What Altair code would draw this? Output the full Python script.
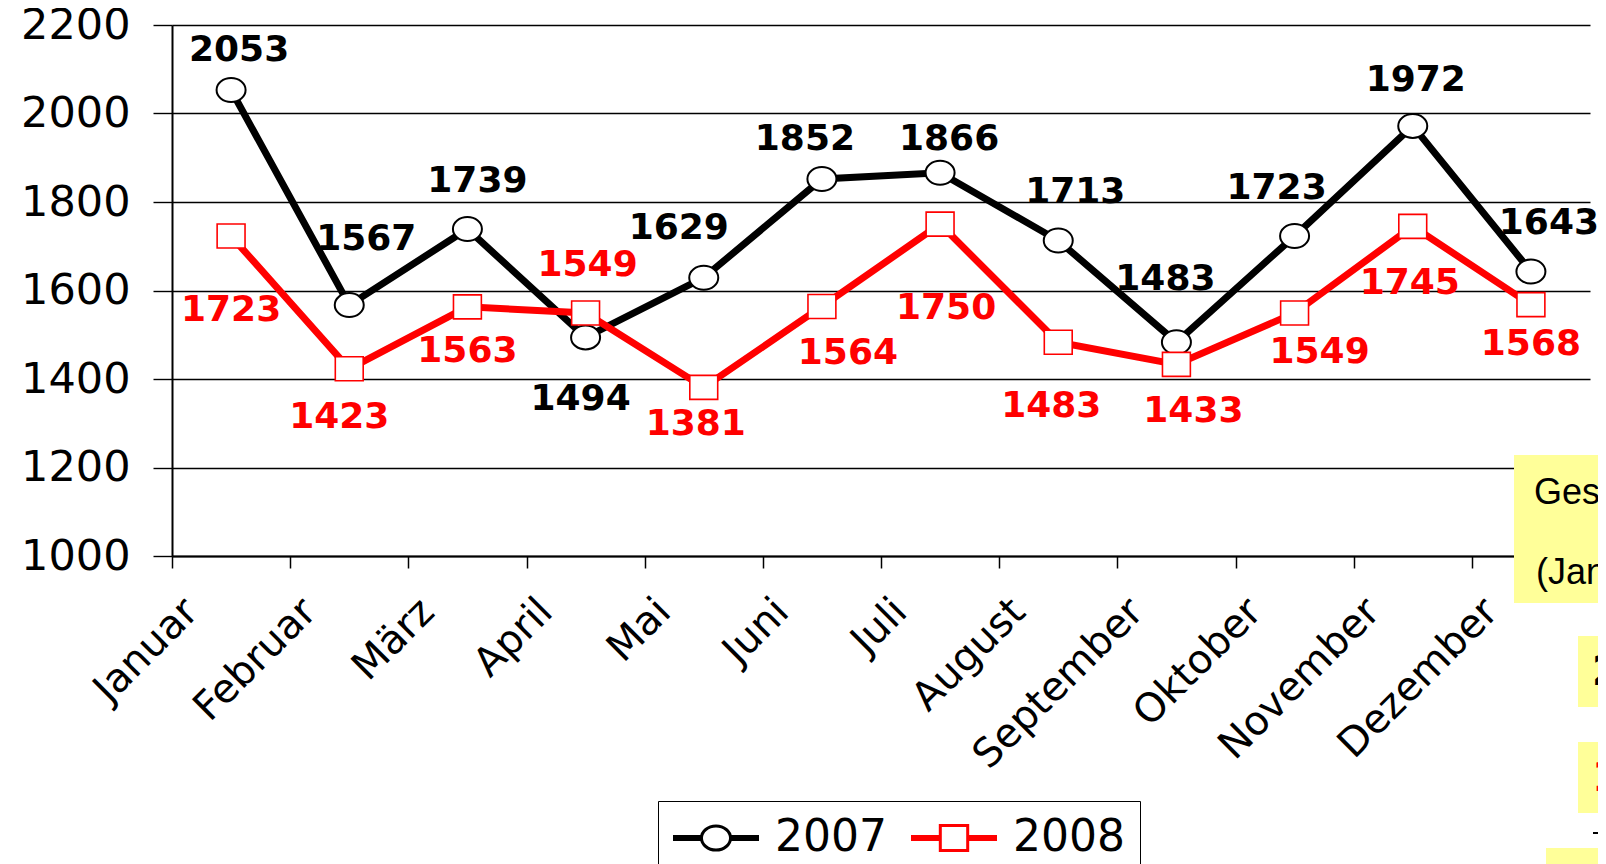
import altair as alt
import pandas as pd

# ---------------- data ----------------
months = ["Januar", "Februar", "März", "April", "Mai", "Juni", "Juli",
          "August", "September", "Oktober", "November", "Dezember"]
v2007 = [2053, 1567, 1739, 1494, 1629, 1852, 1866, 1713, 1483, 1723, 1972, 1643]
v2008 = [1723, 1423, 1563, 1549, 1381, 1564, 1750, 1483, 1433, 1549, 1745, 1568]
series = ["2007", "2008"]
y_ticks = [1000, 1200, 1400, 1600, 1800, 2000, 2200]

# label placement offsets in pixels (layout only)
lab_dx_2007 = [8, 17, 10, -5, -25, -17, 9, 17, -11, -18, 3, 18]
lab_dy_2007 = [-40, -66, -48, 62, -50, -40, -34, -48, -63, -48, -46, -48]
lab_dx_2008 = [0, -10, 0, 2, -8, 26, 6, -7, 17, 25, -3, 0]
lab_dy_2008 = [74, 48, 44, -48, 37, 47, 84, 64, 47, 39, 57, 39]

anno_head = ["Gesamt", "(Januar - Dezember)"]
anno_totals = [str(sum(v2007)), str(sum(v2008))]

# ---------------- layout ----------------
W, H = 1418, 531
PXX = W / 12.0
PXY = H / 1200.0
FONT = "DejaVu Sans"

rows = []
for i, m in enumerate(months):
    rows.append({"Monat": m, "idx": i, "Jahr": series[0], "Wert": v2007[i],
                 "dx": lab_dx_2007[i], "dy": lab_dy_2007[i]})
for i, m in enumerate(months):
    rows.append({"Monat": m, "idx": i, "Jahr": series[1], "Wert": v2008[i],
                 "dx": lab_dx_2008[i], "dy": lab_dy_2008[i]})
df = pd.DataFrame(rows)

xscale = alt.Scale(domain=[-0.5, 11.5], nice=False, zero=False)
yscale = alt.Scale(domain=[1000, 2200], nice=False, zero=False)

names = "[" + ",".join("'" + m + "'" for m in months) + "]"
x_axis = alt.Axis(
    values=[i - 0.5 for i in range(13)],
    labelExpr=f"datum.value < 11 ? {names}[round(datum.value + 0.5)] : ''",
    labelAngle=315, labelAlign="right", labelBaseline="top",
    labelFont=FONT, labelFontSize=40, labelColor="black", labelLimit=0,
    labelPadding=23, labelOffset=5, labelFlush=False, labelOverlap=False,
    tickSize=12, tickColor="black", tickWidth=1.5,
    domainColor="black", domainWidth=2, grid=False, title=None,
)
y_axis = alt.Axis(
    values=y_ticks, format="d",
    labelFont=FONT, labelFontSize=43, labelColor="black", labelPadding=23,
    labelFlush=False,
    tickSize=19, tickColor="black", tickWidth=1.4,
    grid=True, gridColor="black", gridWidth=1.4, gridOpacity=1,
    domainColor="black", domainWidth=2, title=None,
)

def X(field):
    return alt.X(field, scale=xscale, axis=x_axis)

def Y(field):
    return alt.Y(field, scale=yscale, axis=y_axis)

base = alt.Chart(df)

ellipse = ("M0.967,0 C0.967,0.442 0.534,0.8 0,0.8 C-0.534,0.8 -0.967,0.442 -0.967,0 "
           "C-0.967,-0.442 -0.534,-0.8 0,-0.8 C0.534,-0.8 0.967,-0.442 0.967,0 Z")
rect_shape = "M-0.93,-0.8 L0.93,-0.8 L0.93,0.8 L-0.93,0.8 Z"

combo07 = ("M-1,-0.038 L-0.36,-0.038 L-0.36,0.038 L-1,0.038 Z "
           "M0.36,-0.038 L1,-0.038 L1,0.038 L0.36,0.038 Z "
           "M0.35,0 C0.35,0.16 0.193,0.29 0,0.29 C-0.193,0.29 -0.35,0.16 -0.35,0 "
           "C-0.35,-0.16 -0.193,-0.29 0,-0.29 C0.193,-0.29 0.35,-0.16 0.35,0 Z")
combo08 = ("M-1,-0.038 L-0.34,-0.038 L-0.34,0.038 L-1,0.038 Z "
           "M0.34,-0.038 L1,-0.038 L1,0.038 L0.34,0.038 Z "
           "M-0.33,-0.3 L0.33,-0.3 L0.33,0.3 L-0.33,0.3 Z")

line07 = base.transform_filter(alt.datum.Jahr == series[0]).mark_line(
    color="black", strokeWidth=7, strokeCap="round"
).encode(x=X("idx:Q"), y=Y("Wert:Q"))

line08 = base.transform_filter(alt.datum.Jahr == series[1]).mark_line(
    color="#FF0000", strokeWidth=7, strokeCap="round"
).encode(x=X("idx:Q"), y=Y("Wert:Q"))

pts07 = base.transform_filter(alt.datum.Jahr == series[0]).mark_point(
    shape=ellipse, size=900, filled=True, fill="white", stroke="black",
    strokeWidth=2, opacity=1
).encode(x=X("idx:Q"), y=Y("Wert:Q"))

pts08 = base.transform_filter(alt.datum.Jahr == series[1]).mark_point(
    shape=rect_shape, size=900, filled=True, fill="white", stroke="#FF0000",
    strokeWidth=1.6, opacity=1
).encode(x=X("idx:Q"), y=Y("Wert:Q"))

def labels(year, col):
    return base.transform_filter(alt.datum.Jahr == year).transform_calculate(
        lx=f"datum.idx + datum.dx / {PXX}",
        ly=f"datum.Wert - datum.dy / {PXY}",
    ).mark_text(font=FONT, fontWeight="bold", fontSize=36, color=col,
                align="center", baseline="middle").encode(
        x=X("lx:Q"), y=Y("ly:Q"),
        text=alt.Text("Wert:Q", format="d"),
    )

lab07 = labels(series[0], "black")
lab08 = labels(series[1], "#FF0000")

legend = alt.Legend(
    title=None, orient="none", legendX=486, legendY=776, direction="horizontal",
    strokeColor="black", fillColor="white", padding=15,
    labelFont=FONT, labelFontSize=44, labelColor="black", labelLimit=0,
    symbolSize=6889, symbolStrokeWidth=3, labelOffset=16, columnPadding=24,
    symbolOpacity=1, clipHeight=44,
)
legend_layer = base.transform_filter("false").mark_point(
    filled=False, size=6889, strokeWidth=3, opacity=1
).encode(
    x=X("idx:Q"), y=Y("Wert:Q"),
    color=alt.Color("Jahr:N", scale=alt.Scale(domain=series, range=["black", "#FF0000"]),
                    legend=legend),
    shape=alt.Shape("Jahr:N", scale=alt.Scale(domain=series, range=[combo07, combo08]),
                    legend=legend),
)

# ---------------- side annotation panels (cut off at the right edge) ----------------
anno = pd.DataFrame({"k": [0]})
YEL = "#FFFF99"

def box(x1, y1, x2, y2):
    return alt.Chart(anno).mark_rect(color=YEL).encode(
        x=alt.value(x1), x2=alt.value(x2), y=alt.value(y1), y2=alt.value(y2))

def txt(t, x, y, size, col, weight="normal", font="Liberation Sans"):
    return alt.Chart(anno).mark_text(text=t, align="left", baseline="middle",
                                     font=font, fontSize=size, color=col,
                                     fontWeight=weight).encode(
        x=alt.value(x), y=alt.value(y))

annos = [
    box(1342, 430, 1600, 578),
    txt(anno_head[0], 1362, 468, 36, "black"),
    txt(anno_head[1], 1364, 548, 36, "black"),
    box(1406, 611, 1600, 682),
    txt(anno_totals[0], 1420, 648, 40, "black", "bold", FONT),
    box(1406, 717, 1600, 788),
    txt(anno_totals[1], 1420, 754, 40, "#FF0000", "bold", FONT),
    alt.Chart(anno).mark_rule(color="black", strokeWidth=2).encode(
        x=alt.value(1421), x2=alt.value(1600), y=alt.value(808)),
    box(1374, 823, 1600, 900),
]

chart = alt.layer(
    line07, line08, pts07, pts08, lab07, lab08, legend_layer, *annos
).properties(
    width=W, height=H,
    autosize=alt.AutoSizeParams(type="none"),
    padding={"left": 164, "top": 17, "right": 8, "bottom": 308},
    background="white",
).configure_view(strokeWidth=0)

chart.save("out.html", embed_options={"renderer": "svg", "actions": False})
